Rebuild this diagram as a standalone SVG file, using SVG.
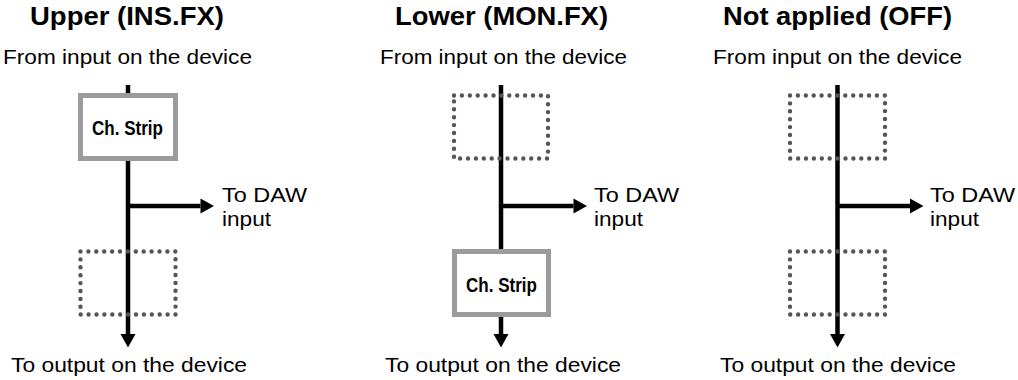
<svg xmlns="http://www.w3.org/2000/svg" width="1018" height="380" viewBox="0 0 1018 380">
  <style>
    .title { font-family: "Liberation Sans", Arial, sans-serif; font-weight: bold; font-size: 25px; fill: #000; }
    .lbl { font-family: "Liberation Sans", Arial, sans-serif; font-size: 20.5px; fill: #000; }
    .strip { font-family: "Liberation Sans", Arial, sans-serif; font-weight: bold; font-size: 20px; fill: #000; }
    .wire { stroke: #000; stroke-width: 4.5; fill: none; }
    .box { fill: #fff; stroke: #9b9b9b; stroke-width: 5; }
    .dots { fill: none; stroke: #555; stroke-width: 4.4; stroke-linecap: round; stroke-dasharray: 0 7.9; }
  </style>
  <defs>
    <marker id="arrow" markerUnits="userSpaceOnUse" markerWidth="14" markerHeight="15" viewBox="0 0 13.5 15" refX="0" refY="7.5" orient="auto" overflow="visible">
      <path d="M0,0 L13.5,7.5 L0,15 Z" fill="#000"/>
    </marker>
  </defs>

  <g id="titles">
    <text class="title" x="127" y="25" text-anchor="middle" textLength="194" lengthAdjust="spacingAndGlyphs">Upper (INS.FX)</text>
    <text class="title" x="501.5" y="25" text-anchor="middle" textLength="213" lengthAdjust="spacingAndGlyphs">Lower (MON.FX)</text>
    <text class="title" x="837.5" y="25" text-anchor="middle" textLength="229" lengthAdjust="spacingAndGlyphs">Not applied (OFF)</text>
  </g>

  <g id="connectors">
    <path class="wire" d="M128,85 L128,334" marker-end="url(#arrow)"/>
    <path class="wire" d="M128,206 L200.5,206" marker-end="url(#arrow)"/>
    <path class="wire" d="M501,85 L501,334" marker-end="url(#arrow)"/>
    <path class="wire" d="M501,206 L573.5,206" marker-end="url(#arrow)"/>
    <path class="wire" d="M837.5,85 L837.5,334" marker-end="url(#arrow)"/>
    <path class="wire" d="M837.5,206 L910,206" marker-end="url(#arrow)"/>
  </g>

  <g id="p1-source">
    <text class="lbl" x="127.5" y="64" text-anchor="middle" textLength="249" lengthAdjust="spacingAndGlyphs">From input on the device</text>
  </g>
  <g id="p1-strip">
    <rect class="box" x="80.5" y="95.5" width="95" height="63"/>
    <text class="strip" x="127.5" y="135" text-anchor="middle" textLength="71" lengthAdjust="spacingAndGlyphs">Ch. Strip</text>
  </g>
  <g id="p1-slot">
    <rect class="dots" x="80.5" y="251.5" width="95" height="63"/>
  </g>
  <g id="p1-daw">
    <text class="lbl" x="222" y="202" textLength="85" lengthAdjust="spacingAndGlyphs">To DAW</text>
    <text class="lbl" x="222" y="226" textLength="49" lengthAdjust="spacingAndGlyphs">input</text>
  </g>
  <g id="p1-output">
    <text class="lbl" x="129" y="372" text-anchor="middle" textLength="236" lengthAdjust="spacingAndGlyphs">To output on the device</text>
  </g>

  <g id="p2-source">
    <text class="lbl" x="503.5" y="64" text-anchor="middle" textLength="247" lengthAdjust="spacingAndGlyphs">From input on the device</text>
  </g>
  <g id="p2-slot">
    <rect class="dots" x="454" y="95.5" width="94" height="63"/>
  </g>
  <g id="p2-strip">
    <rect class="box" x="454.5" y="251.5" width="94" height="63"/>
    <text class="strip" x="501.5" y="292" text-anchor="middle" textLength="71" lengthAdjust="spacingAndGlyphs">Ch. Strip</text>
  </g>
  <g id="p2-daw">
    <text class="lbl" x="594" y="202" textLength="85" lengthAdjust="spacingAndGlyphs">To DAW</text>
    <text class="lbl" x="594" y="226" textLength="49" lengthAdjust="spacingAndGlyphs">input</text>
  </g>
  <g id="p2-output">
    <text class="lbl" x="503" y="372" text-anchor="middle" textLength="236" lengthAdjust="spacingAndGlyphs">To output on the device</text>
  </g>

  <g id="p3-source">
    <text class="lbl" x="837.5" y="64" text-anchor="middle" textLength="249" lengthAdjust="spacingAndGlyphs">From input on the device</text>
  </g>
  <g id="p3-slot-upper">
    <rect class="dots" x="790" y="95.5" width="95" height="63"/>
  </g>
  <g id="p3-slot-lower">
    <rect class="dots" x="790" y="251.5" width="95" height="63"/>
  </g>
  <g id="p3-daw">
    <text class="lbl" x="930" y="202" textLength="85" lengthAdjust="spacingAndGlyphs">To DAW</text>
    <text class="lbl" x="930" y="226" textLength="49" lengthAdjust="spacingAndGlyphs">input</text>
  </g>
  <g id="p3-output">
    <text class="lbl" x="838" y="372" text-anchor="middle" textLength="236" lengthAdjust="spacingAndGlyphs">To output on the device</text>
  </g>
</svg>
